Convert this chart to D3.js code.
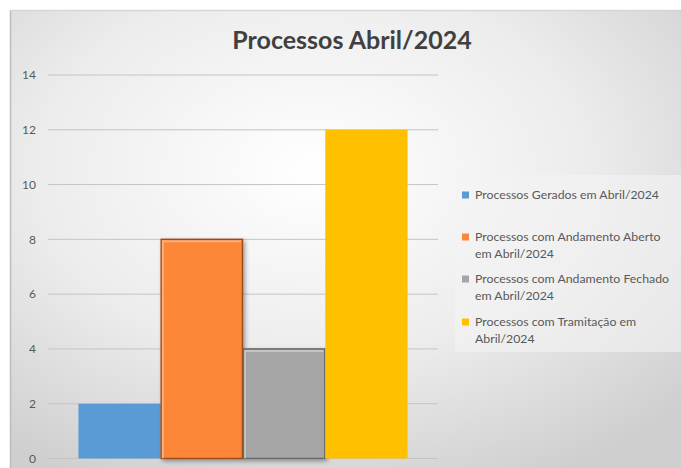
<!DOCTYPE html>
<html>
<head>
<meta charset="utf-8">
<script src="https://cdn.jsdelivr.net/npm/d3@7"></script>
<style>
  body { margin: 0; background: #fff; }
  svg { display: block; font-family: Lato, "Open Sans", sans-serif; }
</style>
</head>
<body>
<div id="chart"></div>
<script>
// chart data
const categories = [
  "Processos Gerados em Abril/2024",
  "Processos com Andamento Aberto em Abril/2024",
  "Processos com Andamento Fechado em Abril/2024",
  "Processos com Tramitação em Abril/2024"
];
const values = [2, 8, 4, 12];
const colors = ["#5b9bd5", "#fd8739", "#a5a5a5", "#ffc000"];
const legendLines = [
  ["Processos Gerados em Abril/2024"],
  ["Processos com Andamento Aberto", "em Abril/2024"],
  ["Processos com Andamento Fechado", "em Abril/2024"],
  ["Processos com Tramitação em", "Abril/2024"]
];
const yTicks = [0, 2, 4, 6, 8, 10, 12, 14];

const W = 681, H = 468;
const svg = d3.select("#chart").append("svg").attr("width", W).attr("height", H);
const defs = svg.append("defs");

const bg = defs.append("radialGradient").attr("id", "bg")
  .attr("cx", "45%").attr("cy", "35%").attr("r", "75%");
bg.append("stop").attr("offset", "0%").attr("stop-color", "#ffffff");
bg.append("stop").attr("offset", "55%").attr("stop-color", "#ececec");
bg.append("stop").attr("offset", "100%").attr("stop-color", "#cfcfcf");

const shadow = defs.append("filter").attr("id", "shadow")
  .attr("x", "-20%").attr("y", "-20%").attr("width", "150%").attr("height", "140%");
shadow.append("feDropShadow").attr("dx", 2).attr("dy", 2).attr("stdDeviation", 2)
  .attr("flood-color", "#000").attr("flood-opacity", 0.35);

// chart area background
svg.append("rect").attr("x", 10).attr("y", 10).attr("width", W - 10).attr("height", H - 10)
  .attr("fill", "url(#bg)");
svg.append("line").attr("x1", 10.5).attr("x2", 10.5).attr("y1", 10).attr("y2", H)
  .attr("stroke", "#bdbdbd").attr("stroke-width", 1.5);
svg.append("line").attr("x1", 10).attr("x2", W).attr("y1", 10.5).attr("y2", 10.5)
  .attr("stroke", "#d6d6d6").attr("stroke-width", 1.5);

svg.append("text")
  .attr("x", 352).attr("y", 49)
  .attr("text-anchor", "middle")
  .attr("font-size", 25).attr("font-weight", "bold")
  .attr("fill", "#404040")
  .text("Processos Abril/2024");

const x = d3.scaleBand().domain(categories).range([48, 438])
  .paddingInner(0).paddingOuter(0.37);
const y = d3.scaleLinear().domain([0, 14]).range([458.5, 75]);

// gridlines
svg.append("g")
  .selectAll("line")
  .data(yTicks)
  .enter()
  .append("line")
  .attr("x1", 48).attr("x2", 438)
  .attr("y1", (d) => y(d)).attr("y2", (d) => y(d))
  .attr("stroke", "#c4c4c4").attr("stroke-width", 1);

// y axis labels
const yAxis = svg.append("g")
  .attr("transform", "translate(36,0)")
  .call(d3.axisLeft(y).tickValues(yTicks).tickSize(0).tickPadding(0));
yAxis.select(".domain").remove();
yAxis.selectAll("text")
  .attr("font-family", "Lato, 'Open Sans', sans-serif")
  .attr("font-size", 12).attr("fill", "#595959");

// bars
const bevel = [false, true, true, false];
const edge = ["none", "#9c4c14", "#6b6b6b", "none"];
svg.selectAll(".bar")
  .data(values)
  .enter()
  .append("rect")
  .attr("class", "bar")
  .attr("x", (d, i) => x(categories[i]) + (bevel[i] ? 0.5 : 0))
  .attr("width", (d, i) => x.bandwidth() - (bevel[i] ? 1 : 0))
  .attr("y", (d) => y(d))
  .attr("height", (d) => y(0) - y(d))
  .attr("fill", (d, i) => colors[i])
  .attr("stroke", (d, i) => edge[i])
  .attr("stroke-width", 1.5)
  .attr("filter", (d, i) => (bevel[i] ? "url(#shadow)" : null));

// bevel highlight on the 3D bars
svg.selectAll(".hl")
  .data(values.map((v, i) => ({ v, i })).filter((d) => bevel[d.i]))
  .enter()
  .append("path")
  .attr("class", "hl")
  .attr("d", (d) => {
    const x0 = x(categories[d.i]) + 2, x1 = x0 + x.bandwidth() - 4;
    const y0 = y(d.v) + 2;
    return `M${x0},${y(0)} L${x0},${y0} L${x1},${y0}`;
  })
  .attr("fill", "none")
  .attr("stroke", "#fff").attr("stroke-opacity", 0.35).attr("stroke-width", 2);

// legend
svg.append("rect").attr("x", 455).attr("y", 175).attr("width", 226).attr("height", 177)
  .attr("fill", "#f4f4f4").attr("opacity", 0.6);

const legendY = [195, 237, 279, 322];
const lg = svg.selectAll(".lg")
  .data(legendLines)
  .enter()
  .append("g")
  .attr("class", "lg")
  .attr("transform", (d, i) => `translate(462,${legendY[i]})`);
lg.append("rect")
  .attr("x", 0).attr("y", -3.5).attr("width", 7).attr("height", 7)
  .attr("fill", (d, i) => colors[i]);
lg.append("text")
  .attr("font-size", 12.3).attr("fill", "#595959")
  .selectAll("tspan")
  .data((d) => d)
  .enter()
  .append("tspan")
  .attr("x", 13)
  .attr("y", (d, i) => 4.3 + i * 16.5)
  .text((d) => d);
</script>
</body>
</html>
